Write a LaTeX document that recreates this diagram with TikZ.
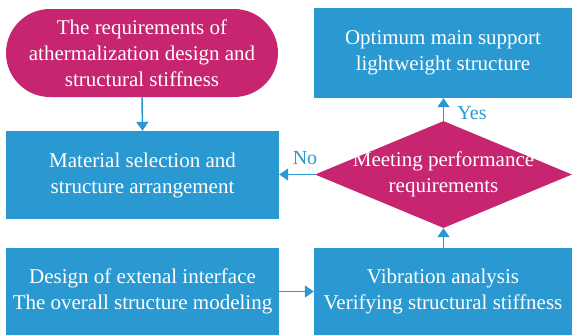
\documentclass[tikz,border=0pt]{standalone}
\usepackage{fontspec}
\setmainfont{LiberationSerif}[Extension=.ttf,UprightFont=*-Regular,BoldFont=*-Bold,ItalicFont=*-Italic,BoldItalicFont=*-BoldItalic]
\usetikzlibrary{shapes.geometric,arrows.meta}
\definecolor{cblue}{RGB}{42,153,210}
\definecolor{cmag}{RGB}{200,37,112}
\begin{document}
\begin{tikzpicture}[x=1pt,y=-1pt,
  box/.style={fill=cblue,draw=none,text=white,align=center,inner sep=0pt,font=\rmfamily\fontsize{21}{26}\selectfont},
  pill/.style={box,fill=cmag,rounded corners=44pt},
  dia/.style={diamond,fill=cmag,draw=none,inner sep=0pt},
  diatext/.style={text=white,align=center,font=\rmfamily\fontsize{21}{26}\selectfont},
  conn/.style={draw=cblue,line width=1.5pt,-{Triangle[length=9pt,width=12pt]}},
  lab/.style={text=cblue,font=\rmfamily\fontsize{20}{24}\selectfont}]
\useasboundingbox (0,0) rectangle (572,335);
\node[pill,minimum width=272pt,minimum height=88pt] (req) at (142,53)
  {The requirements of\\athermalization design and\\structural stiffness};
\node[box,minimum width=273pt,minimum height=88pt] (mat) at (142.5,175)
  {Material selection and\\structure arrangement};
\node[box,minimum width=273pt,minimum height=87pt] (des) at (142.5,291.5)
  {Design of extenal interface\\The overall structure modeling};
\node[box,minimum width=258pt,minimum height=87pt] (vib) at (443,291.5)
  {Vibration analysis\\Verifying structural stiffness};
\node[box,minimum width=258pt,minimum height=90pt] (opt) at (443,53)
  {Optimum main support\\lightweight structure};
\node[dia,minimum width=257pt,minimum height=107pt] (dec) at (443.5,174.5) {};
\node[diatext] (dect) at (dec.center) {Meeting performance\\requirements};
\draw[conn] (req.south) -- (mat.north);
\draw[conn] (des.east) -- (vib.west |- des.east);
\draw[conn] (dec.south |- vib.north) -- (dec.south);
\draw[conn] (dec.north) -- (dec.north |- opt.south);
\draw[conn] (dec.west) -- (mat.east |- dec.west);
\node[lab] (yes) at (472,113) {Yes};
\node[lab] (no) at (305,158) {No};
\end{tikzpicture}
\end{document}
